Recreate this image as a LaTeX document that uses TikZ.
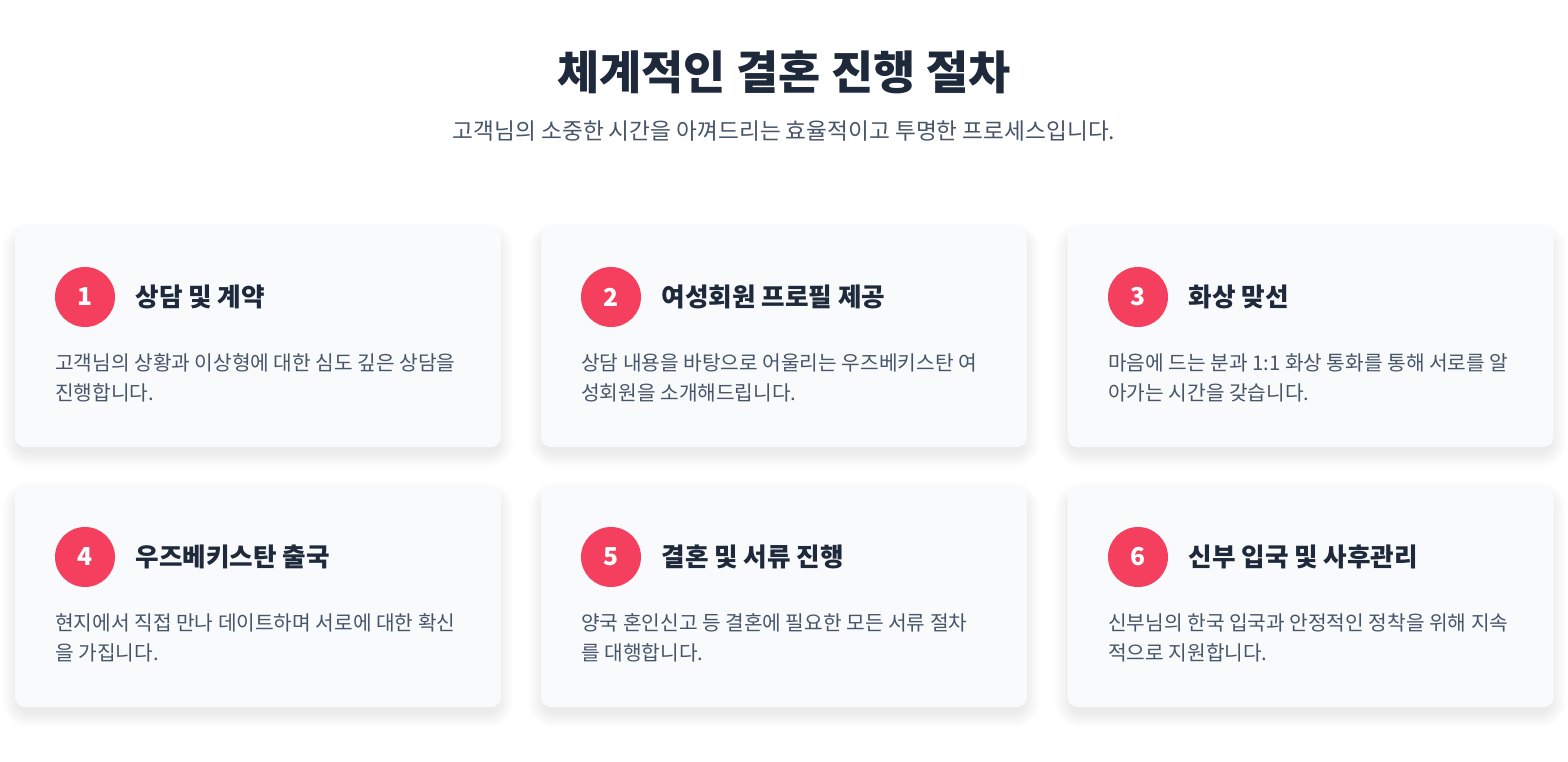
\documentclass[tikz,border=0pt]{standalone}
\usepackage{fontspec}
\setmainfont{Noto Sans CJK KR}
\usetikzlibrary{positioning, backgrounds}
\definecolor{rose}{HTML}{F43F5E}
\definecolor{ink}{HTML}{1E293B}
\definecolor{slate}{HTML}{475569}
\definecolor{cardbg}{HTML}{F8FAFC}
\tikzset{card/.style={rectangle, rounded corners=7.5pt, fill=cardbg, minimum width=364.5pt, minimum height=165pt, inner sep=0pt}}
\tikzset{cardshade/.style={fill=black, opacity=0.009}}
\tikzset{numdot/.style={circle, fill=rose, text=white, minimum size=45pt, inner sep=0pt, font=\bfseries\fontsize{18.5}{20}\selectfont}}
\tikzset{steptitle/.style={inner sep=0pt, text=ink, font=\bfseries\fontsize{19.2}{22}\selectfont}}
\tikzset{stepdesc/.style={anchor=north west, inner sep=0pt, text=slate, align=left, font=\fontsize{15.2}{22.5}\selectfont}}
\tikzset{node distance=15pt}

\begin{document}
\begin{tikzpicture}[x=0.75pt, y=-0.75pt]
        \useasboundingbox (0,0) rectangle (1568,762);
        \node[text=ink, font=\bfseries\fontsize{34.4}{40}\selectfont] (head) at (784,72) {체계적인 결혼 진행 절차};
        \node[text=slate, font=\fontsize{17}{20}\selectfont] (sub) at (784,131) {고객님의 소중한 시간을 아껴드리는 효율적이고 투명한 프로세스입니다.};

        % first row
        \node[card] (c1) at (258,337) {};
        \node[numdot] (n1) at (85,297) {1};
        \node[steptitle, right=of n1] (t1) {상담 및 계약};
        \node[stepdesc] (d1) at (55,353) {고객님의 상황과 이상형에 대한 심도 깊은 상담을\\진행합니다.};

        \node[card] (c2) at (784,337) {};
        \node[numdot] (n2) at (611,297) {2};
        \node[steptitle, right=of n2] (t2) {여성회원 프로필 제공};
        \node[stepdesc] (d2) at (581,353) {상담 내용을 바탕으로 어울리는 우즈베키스탄 여\\성회원을 소개해드립니다.};

        \node[card] (c3) at (1310.5,337) {};
        \node[numdot] (n3) at (1138,297) {3};
        \node[steptitle, right=of n3] (t3) {화상 맞선};
        \node[stepdesc] (d3) at (1108,353) {마음에 드는 분과 1:1 화상 통화를 통해 서로를 알\\아가는 시간을 갖습니다.};

        % second row
        \node[card] (c4) at (258,597) {};
        \node[numdot] (n4) at (85,557) {4};
        \node[steptitle, right=of n4] (t4) {우즈베키스탄 출국};
        \node[stepdesc] (d4) at (55,613) {현지에서 직접 만나 데이트하며 서로에 대한 확신\\을 가집니다.};

        \node[card] (c5) at (784,597) {};
        \node[numdot] (n5) at (611,557) {5};
        \node[steptitle, right=of n5] (t5) {결혼 및 서류 진행};
        \node[stepdesc] (d5) at (581,613) {양국 혼인신고 등 결혼에 필요한 모든 서류 절차\\를 대행합니다.};

        \node[card] (c6) at (1310.5,597) {};
        \node[numdot] (n6) at (1138,557) {6};
        \node[steptitle, right=of n6] (t6) {신부 입국 및 사후관리};
        \node[stepdesc] (d6) at (1108,613) {신부님의 한국 입국과 안정적인 정착을 위해 지속\\적으로 지원합니다.};

        % soft shadows under the cards
        \begin{scope}[on background layer]
          \fill[white] (0,0) rectangle (1568,762);
          \foreach \c in {c1,c2,c3,c4,c5,c6}
            \foreach \i in {1,...,10}
              \fill[cardshade, rounded corners=7.5pt+1.2pt*\i]
                ([shift={({-1.6*\i+4},{-1.6*\i+12})}]\c.north west) rectangle ([shift={({1.6*\i-4},{1.6*\i+4})}]\c.south east);
        \end{scope}
\end{tikzpicture}
\end{document}
